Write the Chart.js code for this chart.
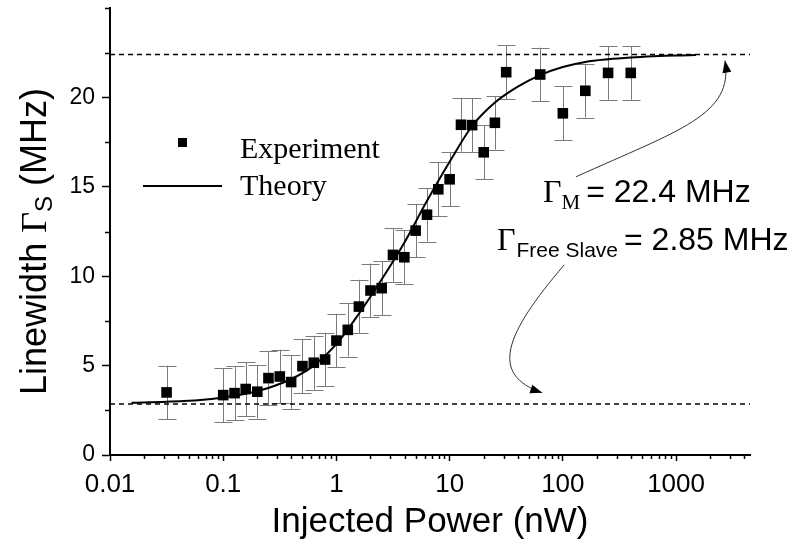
<!DOCTYPE html>
<html><head><meta charset="utf-8">
<script src="https://cdn.jsdelivr.net/npm/chart.js@4.4.0/dist/chart.umd.min.js"></script>
<style>html,body{margin:0;padding:0;background:#fff;} canvas{display:block;}</style>
</head><body>
<canvas id="c" width="795" height="550"></canvas>
<script>
// ---- data ----
const expPower = [0.0316, 0.1, 0.126, 0.158, 0.2, 0.251, 0.316, 0.398, 0.501, 0.631, 0.794, 1.0, 1.26, 1.58, 2.0, 2.51, 3.16, 3.98, 5.01, 6.31, 7.94, 10.0, 12.6, 15.8, 20.0, 25.1, 31.6, 63.1, 100, 158, 251, 398];
const expWidth = [3.50, 3.35, 3.46, 3.69, 3.54, 4.30, 4.39, 4.08, 4.97, 5.16, 5.34, 6.40, 7.00, 8.30, 9.20, 9.33, 11.19, 11.06, 12.55, 13.44, 14.86, 15.42, 18.47, 18.45, 16.93, 18.58, 21.41, 21.28, 19.11, 20.37, 21.37, 21.37];
const expError = [1.5, 1.5, 1.5, 1.5, 1.5, 1.5, 1.5, 1.5, 1.5, 1.5, 1.5, 1.5, 1.5, 1.5, 1.5, 1.5, 1.5, 1.5, 1.5, 1.5, 1.5, 1.5, 1.5, 1.5, 1.5, 1.5, 1.5, 1.5, 1.5, 1.5, 1.5, 1.5];
const theoryPower = [0.0155, 0.0316, 0.063, 0.1, 0.158, 0.25, 0.4, 0.63, 1.0, 1.58, 2.5, 4.0, 6.3, 10, 15.8, 25, 40, 63, 100, 158, 251, 398, 630, 1000, 1500];
const theoryWidth = [2.92, 2.98, 3.08, 3.22, 3.42, 3.75, 4.25, 5.0, 6.2, 7.9, 9.8, 11.9, 14.2, 16.4, 18.4, 19.7, 20.6, 21.25, 21.7, 21.98, 22.13, 22.23, 22.3, 22.35, 22.37];
const limitLevels = [22.4, 2.85];
const limitRange = [0.01, 4500];
const xDecades = [0.01, 0.1, 1, 10, 100, 1000];
const yLabelled = [0, 5, 10, 15, 20];
// annotation arrows, in data units [power, linewidth]
const arrowUpper = [[130.6, 15.56], [1062, 18.17], [3243, 19.01], [2704, 22.06]];
const arrowLower = [[102.8, 10.63], [30.4, 6.72], [22.4, 4.49], [65.8, 3.48]];

const SANS = '"Liberation Sans", Arial, Helvetica, sans-serif';
const SERIF = '"Liberation Serif", "Times New Roman", serif';

function isDecade(v){ return xDecades.some(d => Math.abs(v - d) / d < 1e-6); }
function isLogTick(v){
  const m = v / Math.pow(10, Math.floor(Math.log10(v) + 1e-9));
  return Math.abs(m - Math.round(m)) < 1e-6;
}

const extrasPlugin = {
  id: 'extras',
  beforeDraw(chart){
    const ctx = chart.ctx;
    ctx.save(); ctx.fillStyle = '#fff'; ctx.fillRect(0, 0, chart.width, chart.height); ctx.restore();
  },
  beforeDatasetsDraw(chart){
    const ctx = chart.ctx, xs = chart.scales.x, ys = chart.scales.y;
    ctx.save();
    ctx.strokeStyle = '#7a7a7a'; ctx.lineWidth = 1;
    for (let i = 0; i < expPower.length; i++){
      const px = Math.round(xs.getPixelForValue(expPower[i])) + 0.5;
      const top = ys.getPixelForValue(expWidth[i] + expError[i]);
      const bot = ys.getPixelForValue(expWidth[i] - expError[i]);
      ctx.beginPath();
      ctx.moveTo(px, top); ctx.lineTo(px, bot);
      ctx.moveTo(px - 9, Math.round(top) + 0.5); ctx.lineTo(px + 9, Math.round(top) + 0.5);
      ctx.moveTo(px - 9, Math.round(bot) + 0.5); ctx.lineTo(px + 9, Math.round(bot) + 0.5);
      ctx.stroke();
    }
    ctx.restore();
  },
  afterDraw(chart){
    const ctx = chart.ctx, xs = chart.scales.x, ys = chart.scales.y;
    ctx.save();
    ctx.fillStyle = '#000'; ctx.strokeStyle = '#000';
    ctx.textBaseline = 'alphabetic'; ctx.textAlign = 'left';

    // y axis title (rotated) with subscript
    const ca = chart.chartArea;
    ctx.save();
    ctx.translate(46, (ca.top + ca.bottom) / 2 + 10);
    ctx.rotate(-Math.PI / 2);
    const parts = [
      {t: 'Linewidth ', f: '36px ' + SANS, dy: 0},
      {t: '\u0393', f: '36px ' + SERIF, dy: 0},
      {t: 'S', f: '24px ' + SANS, dy: 6},
      {t: ' (MHz)', f: '36px ' + SANS, dy: 0}
    ];
    let total = 0;
    parts.forEach(p => { ctx.font = p.f; p.w = ctx.measureText(p.t).width; total += p.w; });
    let cx = -total / 2;
    parts.forEach(p => { ctx.font = p.f; ctx.fillText(p.t, cx, p.dy); cx += p.w; });
    ctx.restore();

    // legend
    ctx.fillRect(178, 138, 9, 9);
    ctx.lineWidth = 2;
    ctx.beginPath(); ctx.moveTo(143, 186); ctx.lineTo(222, 186); ctx.stroke();
    ctx.font = '30px ' + SERIF;
    ctx.fillText('Experiment', 240, 158);
    ctx.fillText('Theory', 240, 195);

    // annotation texts
    function chain(x, y, items){
      items.forEach(it => {
        ctx.font = it.f;
        ctx.fillText(it.t, x, y + (it.dy || 0));
        x += ctx.measureText(it.t).width + (it.gap || 0);
      });
    }
    chain(543, 202, [
      {t: '\u0393', f: '32px ' + SERIF, gap: 0},
      {t: 'M', f: '21px ' + SERIF, dy: 7, gap: 6},
      {t: '= 22.4 MHz', f: '32px ' + SANS}
    ]);
    chain(497, 250, [
      {t: '\u0393', f: '32px ' + SERIF, gap: 1},
      {t: 'Free Slave', f: '21px ' + SANS, dy: 7, gap: 6},
      {t: '= 2.85 MHz', f: '32px ' + SANS}
    ]);

    // curved arrows
    function arrow(pts){
      const p = pts.map(q => [xs.getPixelForValue(q[0]), ys.getPixelForValue(q[1])]);
      ctx.strokeStyle = '#333'; ctx.lineWidth = 1;
      ctx.beginPath();
      ctx.moveTo(p[0][0], p[0][1]);
      ctx.bezierCurveTo(p[1][0], p[1][1], p[2][0], p[2][1], p[3][0], p[3][1]);
      ctx.stroke();
      const ang = Math.atan2(p[3][1] - p[2][1], p[3][0] - p[2][0]);
      const L = 12, W = 4.5;
      ctx.fillStyle = '#000';
      ctx.beginPath();
      ctx.moveTo(p[3][0], p[3][1]);
      ctx.lineTo(p[3][0] - L * Math.cos(ang) + W * Math.sin(ang), p[3][1] - L * Math.sin(ang) - W * Math.cos(ang));
      ctx.lineTo(p[3][0] - L * Math.cos(ang) - W * Math.sin(ang), p[3][1] - L * Math.sin(ang) + W * Math.cos(ang));
      ctx.closePath(); ctx.fill();
    }
    arrow(arrowUpper);
    arrow(arrowLower);

    // shorter minor tick marks
    ctx.strokeStyle = '#000'; ctx.lineWidth = 1.5;
    xs.ticks.forEach(t => {
      if (isLogTick(t.value) && !isDecade(t.value)) {
        const px = Math.round(xs.getPixelForValue(t.value)) + 0.5;
        ctx.beginPath(); ctx.moveTo(px, ca.bottom); ctx.lineTo(px, ca.bottom + 4); ctx.stroke();
      }
    });
    ys.ticks.forEach(t => {
      if (!yLabelled.includes(t.value)) {
        const py = Math.round(ys.getPixelForValue(t.value)) + 0.5;
        ctx.beginPath(); ctx.moveTo(ca.left, py); ctx.lineTo(ca.left - 5, py); ctx.stroke();
      }
    });
    ctx.restore();
  }
};

const limitDatasets = limitLevels.map(v => ({
  type: 'line',
  data: limitRange.map(x => ({x: x, y: v})),
  borderColor: '#000', borderWidth: 1.5, borderDash: [5, 4],
  pointRadius: 0, fill: false, order: 3
}));

new Chart(document.getElementById('c'), {
  type: 'scatter',
  data: {
    datasets: [
      {
        label: 'Experiment',
        data: expPower.map((x, i) => ({x: x, y: expWidth[i]})),
        pointStyle: 'rect', pointRadius: 7.5, pointHoverRadius: 7.5,
        backgroundColor: '#000', borderColor: '#000', borderWidth: 0, order: 1
      },
      {
        label: 'Theory', type: 'line',
        data: theoryPower.map((x, i) => ({x: x, y: theoryWidth[i]})),
        borderColor: '#000', borderWidth: 2, pointRadius: 0,
        cubicInterpolationMode: 'monotone', fill: false, order: 2
      },
      ...limitDatasets
    ]
  },
  options: {
    responsive: false, animation: false, devicePixelRatio: 1,
    layout: {padding: {left: 0, right: 45, top: 8, bottom: 0}},
    plugins: {legend: {display: false}, tooltip: {enabled: false}},
    scales: {
      x: {
        type: 'logarithmic', position: 'bottom', min: 0.01, max: 4500,
        afterFit(s){ s.height = 95; s.paddingRight = 0; },
        border: {display: true, color: '#000', width: 2},
        grid: {
          display: true, drawOnChartArea: false, drawTicks: true, tickLength: 6,
          tickWidth: 1.5,
          tickColor: c => (c.tick && isDecade(c.tick.value)) ? '#000' : 'rgba(0,0,0,0)'
        },
        ticks: {
          autoSkip: false, maxRotation: 0, padding: 8, color: '#000',
          font: {family: SANS, size: 26},
          callback: v => isDecade(v) ? String(v) : ''
        },
        title: {display: true, text: 'Injected Power (nW)', color: '#000',
          font: {family: SANS, size: 35}, padding: {top: 0, bottom: 7}}
      },
      y: {
        min: 0, max: 25,
        afterFit(s){ s.width = 110; s.paddingTop = 0; s.paddingBottom = 0; },
        border: {display: true, color: '#000', width: 2},
        grid: {
          display: true, drawOnChartArea: false, drawTicks: true, tickLength: 8,
          tickWidth: 1.5,
          tickColor: c => (c.tick && yLabelled.includes(c.tick.value)) ? '#000' : 'rgba(0,0,0,0)'
        },
        ticks: {
          stepSize: 2.5, padding: 7, color: '#000',
          font: {family: SANS, size: 23},
          callback: v => yLabelled.includes(v) ? String(v) : ''
        }
      }
    }
  },
  plugins: [extrasPlugin]
});
</script>
</body></html>
